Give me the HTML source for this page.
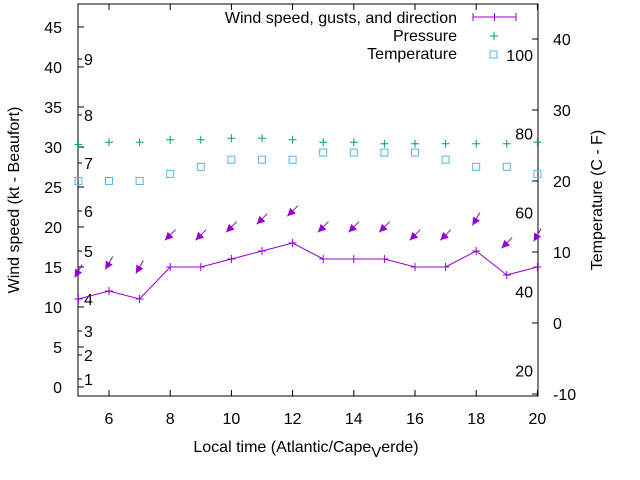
<!DOCTYPE html>
<html><head><meta charset="utf-8"><style>
body{margin:0;background:#fff}
svg{display:block;font-family:"Liberation Sans",sans-serif;font-size:16px}
</style></head><body>
<svg id="c" width="640" height="480" viewBox="0 0 640 480">
<rect x="78" y="4" width="460" height="392" fill="none" stroke="#000" stroke-width="1"/>
<text transform="translate(19,200) rotate(-90)" text-anchor="middle">Wind speed (kt - Beaufort)</text>
<text transform="translate(602,200) rotate(-90)" text-anchor="middle">Temperature (C - F)</text>
<text x="306" y="452" text-anchor="middle">Local time (Atlantic/Cape<tspan dy="5" font-size="15">V</tspan><tspan dy="-5">erde)</tspan></text>
<g>
<text x="457" y="23" text-anchor="end">Wind speed, gusts, and direction</text>
<path d="M473 17H516M473 13V21M494.5 13V21M516 13V21" stroke="#9400d3" fill="none"/>
<text x="457" y="41" text-anchor="end">Pressure</text>
<path d="M490 36h8M494 32v8" stroke="#009e73"/>
<text x="457" y="59" text-anchor="end">Temperature</text>
<rect x="490" y="51" width="7" height="7" fill="none" stroke="#56b4e9"/>
</g>
<g id="g"></g>
</svg>
<script>
const hours=[5,6,7,8,9,10,11,12,13,14,15,16,17,18,19,20];
const windKt=[11,12,11,15,15,16,17,18,16,16,16,15,15,17,14,15];
const gustKt=[14.5,15.5,15,19,19,20,21,22,20,20,20,19,19,21,18,19];
const windDir=[30,30,30,45,45,45,45,45,45,45,45,45,45,30,45,30];
const pressure=[30.3,30.6,30.6,30.9,30.9,31.1,31.1,30.9,30.6,30.6,30.4,30.4,30.4,30.4,30.4,30.6];
const tempC=[20,20,20,21,22,23,23,23,24,24,24,24,23,22,22,21];
const xTicks=[6,8,10,12,14,16,18,20];
const yTicks=[0,5,10,15,20,25,30,35,40,45];
const y2Ticks=[-10,0,10,20,30,40];
const fTicks=[20,40,60,80,100];
const beaufortKt=[1,4,7,11,17,22,28,34,41];
const beaufortLbl=["1","2","3","4","5","6","7","8","9"];

const X=h=>78.4+(h-5)*30.6;
const Y=v=>387-v*8;
const Y2=c=>323-c*7.1;
const NS="http://www.w3.org/2000/svg";
const g=document.getElementById('g');
function mk(t,a,p){const e=document.createElementNS(NS,t);for(const k in a)e.setAttribute(k,a[k]);(p||g).appendChild(e);return e;}

xTicks.forEach(h=>{
 const t=mk('path',{d:`M${X(h)} 396v-6M${X(h)} 4v6`,stroke:'#000'});
 
 
 const l=mk('text',{x:X(h),y:424,'text-anchor':'middle'});l.textContent=h;
 
 
});
yTicks.forEach(v=>{
 const t=mk('path',{d:`M78 ${Y(v)}h6`,stroke:'#000'});
 
 
 const l=mk('text',{x:62,y:Y(v)+6,'text-anchor':'end'});l.textContent=v;
 
 
});
y2Ticks.forEach(v=>{
 const t=mk('path',{d:`M538 ${Y2(v)}h-6`,stroke:'#000'});
 
 
 const l=mk('text',{x:553,y:Y2(v)+6});l.textContent=v;
 
 
});
fTicks.forEach(f=>{
 const c=(f-32)/1.8;
 const l=mk('text',{x:533,y:Y2(c)+6,'text-anchor':'end'});l.textContent=f;
 
 
});
beaufortKt.forEach((k,i)=>{
 const t=mk('path',{d:`M78 ${Y(k)}h4`,stroke:'#000'});
 
 
 const l=mk('text',{x:84,y:Y(k)+6});l.textContent=beaufortLbl[i];
 
 
});
// wind line
let d='';hours.forEach((h,i)=>{d+=(i?'L':'M')+X(h)+' '+Y(windKt[i]);});
const ln=mk('path',{d,stroke:'#9400d3',fill:'none'});


hours.forEach((h,i)=>{
 const x=X(h),y=Y(windKt[i]);
 const p=mk('path',{d:`M${x-4} ${y}h8M${x} ${y-4}v8`,stroke:'#9400d3'});
 
 
 // gust arrow
 const a=windDir[i]*Math.PI/180, L=15;
 const cx=x, cy=Y(gustKt[i]);
 const dx=Math.sin(a), dy=Math.cos(a);
 const tx=cx+dx*L/2, ty=cy-dy*L/2, hx=cx-dx*L/2, hy=cy+dy*L/2;
 const ux=dx, uy=-dy; // pointing back toward tail
 const px=-uy, py=ux;
 const bx=hx+ux*8, by=hy+uy*8;
 const gp=mk('g',{});
 
 
 mk('path',{d:`M${tx} ${ty}L${hx} ${hy}`,stroke:'#9400d3'},gp);
 mk('path',{d:`M${hx} ${hy}L${bx+px*4} ${by+py*4}L${bx-px*4} ${by-py*4}Z`,fill:'#9400d3'},gp);
 // pressure
 const pp=mk('path',{d:`M${x-4} ${Y(pressure[i])}h8M${x} ${Y(pressure[i])-4}v8`,stroke:'#009e73'});
 
 
 const tp=mk('rect',{x:x-3.5,y:Y2(tempC[i])-3.5,width:7,height:7,fill:'none',stroke:'#56b4e9'});
 
 
});
</script>
</body></html>
